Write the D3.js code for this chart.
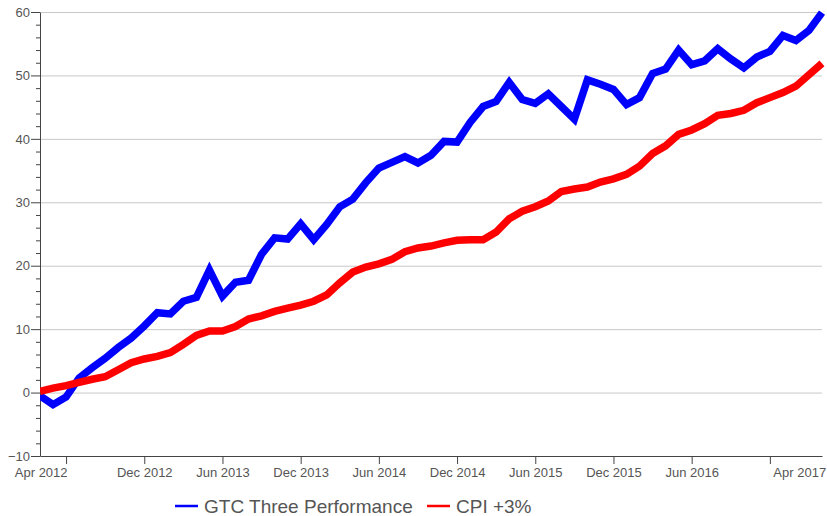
<!DOCTYPE html>
<html>
<head>
<meta charset="utf-8">
<script src="https://cdn.jsdelivr.net/npm/d3@7"></script>
<style>
  body { margin: 0; background: #fff; }
  svg { font-family: "Liberation Sans", Arial, sans-serif; }
</style>
</head>
<body>
<svg width="827" height="516"></svg>
<script>
// monthly points, first one two months before the first tick
var gtc = [-0.5, -1.9, -0.7, 2.3, 3.9, 5.4, 7.1, 8.6, 10.5, 12.6, 12.4, 14.4, 15.0, 19.3, 15.2, 17.4, 17.7, 21.8, 24.4, 24.2,
    26.6, 24.1, 26.5, 29.3, 30.5, 33.1, 35.4, 36.3, 37.2, 36.2, 37.4, 39.6, 39.5, 42.6, 45.1, 45.9, 48.9, 46.2, 45.6, 47.1,
    45.1, 43.1, 49.3, 48.6, 47.8, 45.4, 46.5, 50.3, 51.0, 54.0, 51.7, 52.3, 54.2, 52.6, 51.2, 52.9, 53.8, 56.3, 55.5, 57.1, 59.9]
var cpi = [0.2, 0.7, 1.1, 1.6, 2.1, 2.5, 3.6, 4.7, 5.3, 5.7, 6.3, 7.6, 9.0, 9.7, 9.7, 10.4, 11.6, 12.1, 12.8, 13.3,
    13.8, 14.4, 15.4, 17.3, 19.0, 19.8, 20.3, 21.0, 22.2, 22.8, 23.1, 23.6, 24.0, 24.1, 24.1, 25.3, 27.4, 28.6, 29.3, 30.2,
    31.7, 32.1, 32.4, 33.2, 33.7, 34.4, 35.7, 37.7, 38.9, 40.7, 41.4, 42.4, 43.7, 44.0, 44.5, 45.7, 46.5, 47.3, 48.3, 50.1, 51.9]
var tickIdx = [2, 8, 14, 20, 26, 32, 38, 44, 50, 56]
var tickLabels = ['Apr 2012', 'Dec 2012', 'Jun 2013', 'Dec 2013', 'Jun 2014', 'Dec 2014', 'Jun 2015', 'Dec 2015', 'Jun 2016', 'Apr 2017']
var seriesNames = ['GTC Three Performance', 'CPI +3%']
var seriesColors = ['#0000ff', '#ff0000']

var svg = d3.select('svg')
var plotLeft = 40, plotRight = 822, plotTop = 12, plotBottom = 456

var x = d3.scaleLinear().domain([0, gtc.length - 1]).range([plotLeft, plotRight])
var y = d3.scaleLinear().domain([-10, 60]).range([plotBottom, plotTop])

// grid
svg.append('g')
    .attr('transform', 'translate(' + plotLeft + ',0)')
    .call(d3.axisLeft(y).tickValues(d3.range(0, 61, 10)).tickSize(-(plotRight - plotLeft)).tickFormat(''))
    .call(g => g.select('.domain').remove())
    .selectAll('line')
    .attr('stroke', '#c8c8c8')

// minor y ticks
svg.append('g')
    .attr('transform', 'translate(' + plotLeft + ',0)')
    .call(d3.axisLeft(y).tickValues(d3.range(-8, 60, 2).filter(d => d % 10 !== 0)).tickSize(4).tickFormat(''))
    .call(g => g.select('.domain').remove())
    .selectAll('line')
    .attr('stroke', '#444')

// major y ticks
var yAxis = svg.append('g')
    .attr('transform', 'translate(' + plotLeft + ',0)')
    .call(d3.axisLeft(y).tickValues(d3.range(-10, 61, 10)).tickSize(9).tickPadding(1).tickSizeOuter(0))
yAxis.select('.domain').attr('stroke', '#444')
yAxis.selectAll('line').attr('stroke', '#444')
yAxis.selectAll('text')
    .attr('fill', '#555')
    .style('font-size', '13px')

// x axis
var xAxis = svg.append('g')
    .attr('transform', 'translate(0,' + plotBottom + ')')
    .call(d3.axisBottom(x).tickValues(tickIdx).tickFormat((d, i) => tickLabels[i]).tickSize(8).tickPadding(4).tickSizeOuter(0))
xAxis.select('.domain').attr('stroke', '#444')
xAxis.selectAll('line').attr('stroke', '#444')
xAxis.selectAll('text')
    .attr('fill', '#555')
    .style('font-size', '13px')
xAxis.selectAll('.tick').filter((d, i) => i === 0).select('text')
    .attr('text-anchor', 'end')
    .attr('x', 1)
xAxis.selectAll('.tick').filter((d, i) => i === tickIdx.length - 1).select('text')
    .attr('text-anchor', 'start')
    .attr('x', 3)

// lines
svg.append('clipPath')
    .attr('id', 'plot')
    .append('rect')
    .attr('x', plotLeft)
    .attr('y', 0)
    .attr('width', 827 - plotLeft)
    .attr('height', plotBottom)

var line = d3.line()
    .x((d, i) => x(i))
    .y(d => y(d))

svg.append('g')
    .attr('clip-path', 'url(#plot)')
    .selectAll('path')
    .data([gtc, cpi])
    .enter()
    .append('path')
    .attr('d', line)
    .attr('fill', 'none')
    .attr('stroke', (d, i) => seriesColors[i])
    .attr('stroke-width', 7.5)
    .attr('stroke-linejoin', 'miter')

// legend
var legendX = [175, 427]
var legend = svg.selectAll('.legend')
    .data(seriesNames)
    .enter()
    .append('g')
    .attr('class', 'legend')
    .attr('transform', (d, i) => 'translate(' + legendX[i] + ',506)')

legend.append('line')
    .attr('x1', 0)
    .attr('x2', 23)
    .attr('stroke', (d, i) => seriesColors[i])
    .attr('stroke-width', 2.5)

legend.append('text')
    .text(d => d)
    .attr('x', 29)
    .attr('y', 6.5)
    .attr('fill', '#555')
    .style('font-size', '19px')
</script>
</body>
</html>
